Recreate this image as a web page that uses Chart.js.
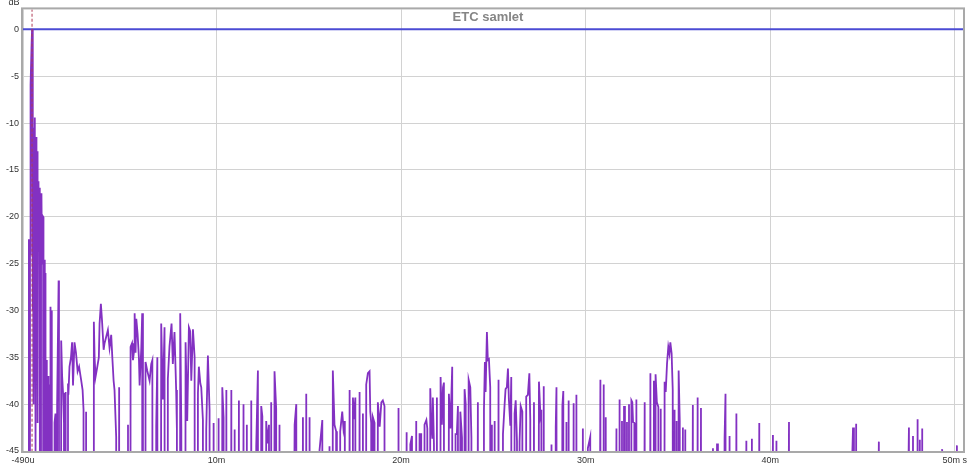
<!DOCTYPE html>
<html lang="da">
<head>
    <meta charset="UTF-8">
    <title>ETC samlet</title>
    <script src="https://cdn.jsdelivr.net/npm/chart.js"></script>
    <style>
        body {
            margin: 0;
            background: #fff;
        }
        canvas {
            display: block;
        }
    </style>
</head>
<body>
    <canvas id="etcChart" width="975" height="465"></canvas>

    <script>
        const chartTitle = 'ETC samlet';
        const yUnit = 'dB';

        // x axis in ms, y axis in dB
        const xTickValues = [-0.49, 10, 20, 30, 40, 50];
        const xTickLabels = ['-490u', '10m', '20m', '30m', '40m', '50m s'];
        const yTickValues = [0, -5, -10, -15, -20, -25, -30, -35, -40, -45];

        // reference level and impulse peak marker
        const referenceLevel = [[-0.49, 0], [50.5, 0]];
        const peakMarker = [[0, 2.2], [0, -45]];

        // level far below the bottom of the plot (the trace drops out of view)
        const F = -300;

        // ETC trace, [time ms, level dB]
        const directSound = [
            [-0.57, F], [-0.20, F], [-0.17, -22.4], [-0.15, F], [-0.11, -24], [-0.08, -5.9],
            [-0.03, -2], [0.00, 0], [0.03, -30], [0.05, -11.9], [0.08, -40], [0.11, -10.5],
            [0.14, -9.4], [0.16, -13], [0.19, -45], [0.22, -11.5], [0.24, -14.6], [0.27, -13],
            [0.30, -42], [0.33, -16.5], [0.35, -16.2], [0.38, -23.6], [0.41, -16.9], [0.43, -18.6],
            [0.46, F], [0.49, -19], [0.51, -17.5], [0.54, -25], [0.57, -19.9], [0.60, -20],
            [0.62, F], [0.65, -24.6], [0.68, -25.4], [0.70, -33], [0.73, -26], [0.76, F],
            [0.79, -35.3], [0.81, -38], [0.84, F], [0.89, -37], [0.92, F], [0.98, -38],
            [1.00, -29.6], [1.03, -33], [1.06, -30], [1.08, -30.3], [1.11, F], [1.19, F],
            [1.22, -42], [1.27, -41], [1.30, F], [1.36, -40], [1.44, -26.8], [1.46, -38.8],
            [1.52, F]
        ];

        const earlyReflections = [
            [1.58, -33.2], [1.63, -37], [1.68, -38.8], [1.73, -42], [1.79, F], [1.82, -38.7],
            [1.87, F], [1.95, -37.8], [1.97, -39], [2.03, -36], [2.11, -35], [2.17, -33.4],
            [2.22, -38], [2.30, -33.4], [2.38, -34.5], [2.47, -36.5], [2.55, -36], [2.66, -37.4],
            [2.74, -38.5], [2.79, -40.6], [2.87, F], [2.93, -40.8], [2.98, F], [3.31, F],
            [3.35, -31.2], [3.39, -35], [3.44, -37.1], [3.52, -36.2], [3.62, -35], [3.66, -31.4],
            [3.73, -29.3], [3.79, -31], [3.88, -34.2], [3.93, -33.5], [4.02, -32.8], [4.11, -32.1],
            [4.20, -34], [4.29, -32.6], [4.35, -35], [4.42, -37.5], [4.47, -38.5], [4.56, -43.5],
            [4.65, F], [4.72, -38.2], [4.78, F], [5.15, F], [5.20, -42.2], [5.26, F],
            [5.34, -33.9], [5.42, -33.5], [5.47, -35.3], [5.53, -34.3], [5.56, -30.3], [5.61, -34.5],
            [5.65, -30.9], [5.72, -32.5], [5.79, -35], [5.83, -38], [5.92, -34], [5.97, -30.3],
            [6.01, F], [6.12, F], [6.15, -35.5], [6.24, -36.4], [6.37, -37.5], [6.46, -35.7],
            [6.52, -35.3], [6.59, F], [6.73, -42.3], [6.79, -35], [6.86, F], [7.00, -31.4],
            [7.09, -39.5], [7.18, -31.8], [7.27, F], [7.36, -37.3], [7.45, -33.8], [7.56, -31.4],
            [7.63, -35.7], [7.72, -32.3], [7.81, -38.5], [7.85, -42.7], [7.94, F], [8.03, -30.3],
            [8.09, -42.7], [8.21, F], [8.32, -33.4], [8.41, -41.8], [8.50, -31.8], [8.57, -32.2],
            [8.63, -37.5], [8.72, -32], [8.81, -35], [8.90, F], [8.99, -38.8], [9.04, -36],
            [9.12, -37.8], [9.17, -38.2], [9.26, -41.7], [9.35, F], [9.44, -42.7], [9.53, -34.8],
            [9.62, -40.6], [9.72, F], [9.84, -42], [9.93, F]
        ];

        const midReflections = [
            [10.11, -41.5], [10.20, F], [10.31, -38.2], [10.38, -41.4], [10.45, F], [10.53, -38.5],
            [10.61, F], [10.80, -38.5], [10.88, F], [10.98, -42.7], [11.07, F], [11.21, -39.6],
            [11.28, F], [11.46, -40], [11.57, F], [11.64, -42.2], [11.72, F], [11.88, -39.6],
            [11.97, F], [12.15, -44.5], [12.24, -36.4], [12.33, F], [12.42, -40.2], [12.48, -41.3],
            [12.55, F], [12.69, -41.8], [12.75, -44.2], [12.84, -42.2], [12.92, F], [12.96, -39.8],
            [13.05, F], [13.14, -36.5], [13.23, -40.5], [13.32, F], [13.41, -42.2], [13.51, F],
            [14.23, -42.2], [14.32, -40], [14.41, F], [14.68, -41.4], [14.77, F], [14.86, -38.9],
            [14.95, F], [15.04, -41.4], [15.13, F], [15.58, -44.9], [15.73, -41.7], [15.80, F],
            [16.12, -44.5], [16.18, F], [16.30, -36.4], [16.39, -42.2], [16.48, -42.9], [16.52, F],
            [16.70, -42.9], [16.81, -40.8], [16.88, -42.7], [16.95, -41.8], [16.99, F], [17.21, -38.5],
            [17.30, F], [17.39, -39.3], [17.44, -41.6], [17.52, -39.3], [17.57, F], [17.75, -38.7],
            [17.84, F], [17.93, -41], [18.02, F], [18.11, -37.9], [18.20, -36.7], [18.29, -36.5],
            [18.33, -40.8], [18.38, -42], [18.44, F], [18.47, -41.4], [18.56, -42], [18.62, F],
            [18.74, -39.8], [18.84, -42.4], [18.93, -39.8], [19.01, -39.6], [19.10, -40.2], [19.16, F],
            [19.80, F], [19.86, -40.4], [19.95, F]
        ];

        const lateCluster = [
            [20.30, -43], [20.35, F], [20.50, -44.3], [20.59, -43.4], [20.64, F], [20.82, -41.8],
            [20.88, F], [21.00, -43.2], [21.09, -43.2], [21.15, F], [21.27, -42.2], [21.37, -41.7],
            [21.42, -42.6], [21.49, F], [21.58, -38.3], [21.64, -42.2], [21.69, -43.6], [21.72, -39.3],
            [21.78, -44.3], [21.85, F], [21.94, -39.3], [21.99, F], [22.14, -37.1], [22.21, -42.2],
            [22.27, -38.2], [22.32, -37.7], [22.40, F], [22.59, -38.9], [22.67, -42.6], [22.77, -36],
            [22.84, F], [22.95, -43.2], [23.02, -43.2], [23.08, -40.2], [23.13, F], [23.21, -40.8],
            [23.30, -43.6], [23.39, F], [23.44, -38.4], [23.50, -40], [23.57, F], [23.66, -37.4],
            [23.75, -38.2], [23.81, -43.6], [23.86, F], [24.16, -39.8], [24.24, F], [24.43, F],
            [24.49, -40.6], [24.54, -35.5], [24.58, -38.7], [24.65, -32.3], [24.70, -35.3], [24.76, -35.2],
            [24.83, -38.2], [24.89, F], [24.92, -42.2], [24.98, F], [25.07, -41.8], [25.12, F],
            [25.28, -37.4], [25.34, F], [25.52, -43.2], [25.61, -40], [25.66, -38.4], [25.73, -38.2],
            [25.79, -36.2], [25.84, -39.5], [25.92, -42.3], [25.97, -37.1], [26.06, F], [26.15, -41],
            [26.21, -39.6], [26.28, -44], [26.33, F], [26.42, -44], [26.48, -40.2], [26.57, -40.8],
            [26.64, F], [26.78, -39.2], [26.87, -39], [26.95, -36.7], [27.00, -41.7], [27.06, F],
            [27.20, -39.8], [27.25, F], [27.47, -37.6], [27.55, -41.2], [27.60, -40.6], [27.66, F],
            [27.73, -38.1], [27.80, F], [28.15, -44.3], [28.20, F], [28.38, -42.5], [28.42, -38.2],
            [28.48, F], [28.74, -40.2], [28.79, -38.6], [28.86, F], [28.96, -41.9], [29.01, F],
            [29.08, -39.6], [29.13, F], [29.35, -39.9], [29.42, F], [29.50, -39], [29.57, F],
            [29.85, -42.6], [29.95, F], [30.12, -44.7], [30.25, -43.5], [30.31, F]
        ];

        const tail = [
            [30.80, -37.4], [30.87, F], [30.98, -37.9], [31.05, F], [31.09, -41.4], [31.14, F],
            [31.67, -42.6], [31.72, F], [31.84, -39.5], [31.90, F], [31.97, -41.8], [32.02, F],
            [32.08, -40.2], [32.13, F], [32.24, -41.9], [32.29, F], [32.35, -40], [32.40, F],
            [32.48, -39.6], [32.53, -39.8], [32.57, -41.9], [32.64, -42], [32.67, F], [32.75, -39.5],
            [32.80, F], [33.20, -39.8], [33.25, F], [33.51, -36.7], [33.56, F], [33.70, -37.5],
            [33.76, F], [33.79, -36.8], [33.86, -39.8], [33.94, -40.3], [34.01, F], [34.07, -40.5],
            [34.12, F], [34.28, -37.6], [34.34, -38.7], [34.41, -35.7], [34.48, -33.9], [34.54, -34.6],
            [34.59, -33.4], [34.66, -34.6], [34.72, -38.5], [34.77, F], [34.82, -40.6], [34.88, F],
            [34.93, -41.8], [35.00, F], [35.04, -36.4], [35.10, -41.8], [35.16, F], [35.27, -42.5],
            [35.33, F], [35.40, -42.7], [35.46, F], [35.81, -40.1], [35.89, F], [36.07, -39.3],
            [36.14, F], [36.25, -40.4], [36.32, F], [36.90, -44.7], [36.95, F], [37.12, -44.2],
            [37.17, F], [37.53, -43.6], [37.58, -38.9], [37.66, F], [37.80, -43.4], [37.86, F],
            [38.17, -41], [38.24, F], [38.71, -43.9], [38.76, F], [39.01, -43.7], [39.07, F],
            [39.41, -42], [39.47, F], [40.15, -43.3], [40.20, F], [40.34, -43.9], [40.39, F],
            [41.02, -41.9], [41.07, F], [44.49, -42.5], [44.54, F], [44.66, -42.1], [44.72, F],
            [45.89, -44], [45.94, F], [47.52, -42.5], [47.57, F], [47.74, -43.4], [47.79, F],
            [47.99, -41.6], [48.04, F], [48.11, -43.8], [48.16, F], [48.24, -42.6], [48.29, F],
            [49.32, -44.8], [49.37, F], [50.12, -44.4], [50.18, F], [50.5, F]
        ];

        const etcTrace = [...directSound, ...earlyReflections, ...midReflections, ...lateCluster, ...tail];
        const toPoints = pairs => pairs.map(p => ({ x: p[0], y: p[1] }));

        // frame, title inside the plot and the dB unit in the corner
        const framePlugin = {
            id: 'frame',
            afterDraw(chart) {
                const { ctx, chartArea: a } = chart;
                ctx.save();
                ctx.strokeStyle = '#a9a9a9';
                ctx.lineWidth = 2;
                ctx.strokeRect(a.left - 1, a.top - 1, a.right - a.left + 2, a.bottom - a.top + 2);
                ctx.fillStyle = '#858585';
                ctx.font = 'bold 13px Arial';
                ctx.textAlign = 'center';
                ctx.textBaseline = 'middle';
                ctx.fillText(chartTitle, (a.left + a.right) / 2 - 5, a.top + 8);
                ctx.fillStyle = '#333';
                ctx.font = '9px Arial';
                ctx.fillText(yUnit, 14, 3);
                ctx.restore();
            }
        };

        const ctx = document.getElementById('etcChart').getContext('2d');
        new Chart(ctx, {
            type: 'line',
            data: {
                datasets: [{
                    label: 'peak',
                    data: toPoints(peakMarker),
                    borderColor: '#b03a55',
                    borderWidth: 1,
                    borderDash: [3, 2],
                    pointRadius: 0
                }, {
                    label: 'ETC',
                    data: toPoints(etcTrace),
                    borderColor: '#8331c2',
                    borderWidth: 1.8,
                    pointRadius: 0,
                    tension: 0
                }, {
                    label: 'reference',
                    data: toPoints(referenceLevel),
                    borderColor: '#4b4bd4',
                    borderWidth: 2,
                    pointRadius: 0
                }]
            },
            options: {
                responsive: false,
                animation: false,
                layout: {
                    padding: { top: 8, right: 12, left: 0, bottom: 0 }
                },
                plugins: {
                    legend: { display: false },
                    tooltip: { enabled: false }
                },
                scales: {
                    x: {
                        type: 'linear',
                        min: -0.49,
                        max: 50.45,
                        afterBuildTicks: scale => {
                            scale.ticks = xTickValues.map(v => ({ value: v }));
                        },
                        afterFit: scale => {
                            scale.height = 14;
                        },
                        ticks: {
                            autoSkip: false,
                            maxRotation: 0,
                            padding: 4,
                            color: '#333',
                            font: { family: 'Arial', size: 9 },
                            callback: (value, index) => xTickLabels[index]
                        },
                        grid: {
                            color: '#d2d2d2',
                            drawTicks: false
                        },
                        border: { display: false }
                    },
                    y: {
                        type: 'linear',
                        min: -45,
                        max: 2.13,
                        afterBuildTicks: scale => {
                            scale.ticks = yTickValues.map(v => ({ value: v }));
                        },
                        afterFit: scale => {
                            scale.width = 23;
                        },
                        ticks: {
                            padding: 4,
                            color: '#333',
                            font: { family: 'Arial', size: 9 },
                            callback: value => String(value)
                        },
                        grid: {
                            color: '#d2d2d2',
                            drawTicks: false
                        },
                        border: { display: false }
                    }
                }
            },
            plugins: [framePlugin]
        });
    </script>
</body>
</html>
